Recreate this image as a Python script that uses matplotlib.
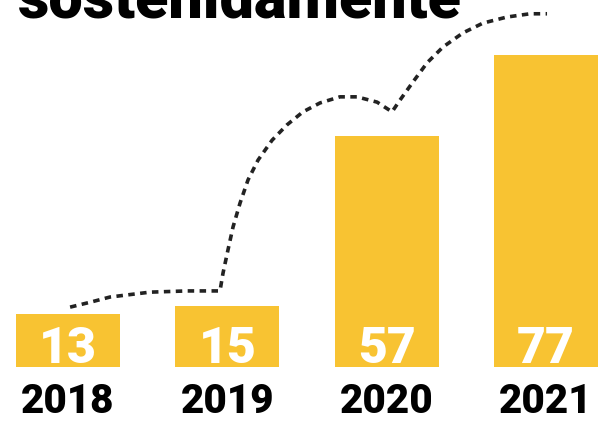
import numpy as np
import matplotlib.pyplot as plt

years = ["2018", "2019", "2020", "2021"]
values = [13, 15, 57, 77]

# decorative dotted trend path (x in bar index units, y in value units)
trend_x = [0.013, 0.138, 0.264, 0.515, 0.747, 0.873, 0.954, 0.973, 1.004, 1.036,
           1.080, 1.130, 1.193, 1.281, 1.375, 1.475, 1.582, 1.707, 1.814, 1.940,
           2.034, 2.084, 2.166, 2.254, 2.354, 2.480, 2.605, 2.756, 2.900, 3.007]
trend_y = [14.8, 16.0, 17.3, 18.5, 18.8, 18.8, 18.8, 23.2, 28.9, 34.6,
           40.5, 46.2, 51.1, 56.0, 59.8, 63.0, 65.2, 66.7, 66.7, 65.4,
           63.0, 65.9, 70.4, 75.1, 79.0, 82.5, 84.9, 86.4, 87.2, 87.2]

title = "sostenidamente"
yellow = "#F8C332"

plt.rcParams['font.family'] = ['Roboto', 'Liberation Sans', 'DejaVu Sans']

fig = plt.figure(figsize=(6.09, 4.21), dpi=100)
ax = fig.add_axes([0, 0, 1, 1])
x = np.arange(len(years))
ax.bar(x, values, width=0.654, color=yellow)

for xi, v, yr in zip(x, values, years):
    ax.text(xi, 1.0, str(v), ha='center', va='baseline', color='white',
            fontsize=36, fontweight='black')
    ax.text(xi, -8.4, yr, ha='center', va='center', color='black',
            fontsize=29, fontweight='black')

ax.plot(trend_x, trend_y, color='#222222', lw=2.6, linestyle=(0, (1.8, 1.5)),
        solid_joinstyle='miter')

fig.text(18 / 609, (421 - 17) / 421, title, ha='left', va='baseline',
         fontsize=44, fontweight='black', color='black')

ax.set_xlim(-0.427, 3.396)
ax.set_ylim(-13.3, 90.6)
ax.axis('off')

fig.savefig("out.png", dpi=100)
